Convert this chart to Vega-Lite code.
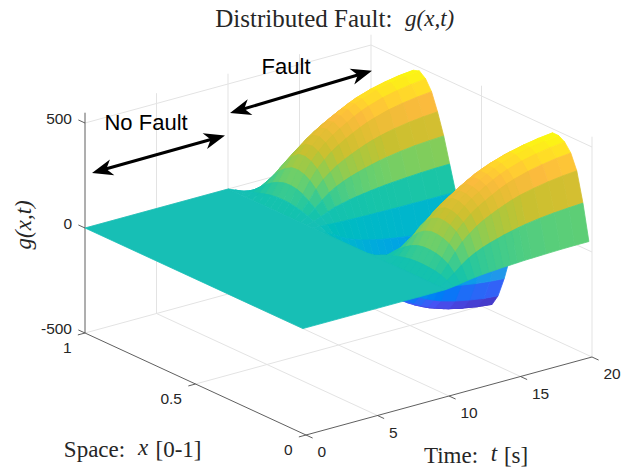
{"$schema":"https://vega.github.io/schema/vega-lite/v6.json","width":623,"height":470,"padding":0,"autosize":{"type":"none"},"background":"white","config":{"view":{"stroke":null}},
"transform":[],
"encoding":{"x":{"field":"u","type":"quantitative","scale":{"domain":[0,623]},"axis":null},"y":{"field":"v","type":"quantitative","scale":{"domain":[470,0]},"axis":null}},
"layer":[
{"data":{"values":[
{"t":5,"x":0,"g":-500,"t2":5,"x2":1,"g2":-500},{"t":10,"x":0,"g":-500,"t2":10,"x2":1,"g2":-500},{"t":15,"x":0,"g":-500,"t2":15,"x2":1,"g2":-500},{"t":20,"x":0,"g":-500,"t2":20,"x2":1,"g2":-500},
{"t":0,"x":0.5,"g":-500,"t2":20,"x2":0.5,"g2":-500},{"t":0,"x":1,"g":-500,"t2":20,"x2":1,"g2":-500},
{"t":5,"x":1,"g":-500,"t2":5,"x2":1,"g2":549},{"t":10,"x":1,"g":-500,"t2":10,"x2":1,"g2":549},{"t":15,"x":1,"g":-500,"t2":15,"x2":1,"g2":549},{"t":20,"x":1,"g":-500,"t2":20,"x2":1,"g2":549},
{"t":0,"x":1,"g":0,"t2":20,"x2":1,"g2":0},{"t":0,"x":1,"g":500,"t2":20,"x2":1,"g2":500},
{"t":20,"x":0.5,"g":-500,"t2":20,"x2":0.5,"g2":549},{"t":20,"x":0,"g":-500,"t2":20,"x2":0,"g2":549},
{"t":20,"x":1,"g":0,"t2":20,"x2":0,"g2":0},{"t":20,"x":1,"g":500,"t2":20,"x2":0,"g2":500}]},
"transform":[{"calculate":"306-221*datum.x+14.3*datum.t","as":"u"},{"calculate":"330-102*datum.x-3.9*datum.t-0.21*datum.g","as":"v"},{"calculate":"306-221*datum.x2+14.3*datum.t2","as":"u2"},{"calculate":"330-102*datum.x2-3.9*datum.t2-0.21*datum.g2","as":"v2"}],
"mark":{"type":"rule","stroke":"#e3e3e3","strokeWidth":1},"encoding":{"x2":{"field":"u2"},"y2":{"field":"v2"}}},
{"data":{"values":[
{"t":0,"x":1,"g":-500,"t2":0,"x2":1,"g2":549},{"t":0,"x":0,"g":-500,"t2":0,"x2":1,"g2":-500},{"t":0,"x":0,"g":-500,"t2":20,"x2":0,"g2":-500},
{"t":0,"x":1,"g":500,"t2":0,"x2":1.03,"g2":500},{"t":0,"x":1,"g":0,"t2":0,"x2":1.03,"g2":0},{"t":0,"x":1,"g":-500,"t2":0,"x2":1.03,"g2":-500},
{"t":0,"x":1,"g":-500,"t2":-0.5,"x2":1,"g2":-500},{"t":0,"x":0.5,"g":-500,"t2":-0.5,"x2":0.5,"g2":-500},{"t":0,"x":0,"g":-500,"t2":-0.5,"x2":0,"g2":-500},
{"t":0,"x":0,"g":-500,"t2":0,"x2":-0.03,"g2":-500},{"t":5,"x":0,"g":-500,"t2":5,"x2":-0.03,"g2":-500},{"t":10,"x":0,"g":-500,"t2":10,"x2":-0.03,"g2":-500},{"t":15,"x":0,"g":-500,"t2":15,"x2":-0.03,"g2":-500},{"t":20,"x":0,"g":-500,"t2":20,"x2":-0.03,"g2":-500}]},
"transform":[{"calculate":"306-221*datum.x+14.3*datum.t","as":"u"},{"calculate":"330-102*datum.x-3.9*datum.t-0.21*datum.g","as":"v"},{"calculate":"306-221*datum.x2+14.3*datum.t2","as":"u2"},{"calculate":"330-102*datum.x2-3.9*datum.t2-0.21*datum.g2","as":"v2"}],
"mark":{"type":"rule","stroke":"#4d4d4d","strokeWidth":0.9},"encoding":{"x2":{"field":"u2"},"y2":{"field":"v2"}}},
{"data":{"values":[
{"t":20,"x":1,"g":-145},{"t":19,"x":1,"g":-143},{"t":18,"x":1,"g":-139},{"t":17,"x":1,"g":-134},{"t":16,"x":1,"g":-127},{"t":15.5,"x":1,"g":-123},{"t":15,"x":1,"g":-118},{"t":14.5,"x":1,"g":-112},{"t":14,"x":1,"g":-105},{"t":13.5,"x":1,"g":-98},{"t":13,"x":1,"g":-90},{"t":12.5,"x":1,"g":-80},{"t":12,"x":1,"g":-68},{"t":11.5,"x":1,"g":-51},{"t":11,"x":1,"g":-32},{"t":10.5,"x":1,"g":-14},{"t":10,"x":1,"g":0},
{"t":20,"x":0.973,"g":-68},{"t":19,"x":0.973,"g":-67},{"t":18,"x":0.973,"g":-65},{"t":17,"x":0.973,"g":-63},{"t":16,"x":0.973,"g":-59},{"t":15.5,"x":0.973,"g":-57},{"t":15,"x":0.973,"g":-55},{"t":14.5,"x":0.973,"g":-52},{"t":14,"x":0.973,"g":-49},{"t":13.5,"x":0.973,"g":-46},{"t":13,"x":0.973,"g":-42},{"t":12.5,"x":0.973,"g":-37},{"t":12,"x":0.973,"g":-32},{"t":11.5,"x":0.973,"g":-24},{"t":11,"x":0.973,"g":-15},{"t":10.5,"x":0.973,"g":-6},{"t":10,"x":0.973,"g":0},
{"t":20,"x":0.945,"g":24},{"t":19,"x":0.945,"g":24},{"t":18,"x":0.945,"g":23},{"t":17,"x":0.945,"g":22},{"t":16,"x":0.945,"g":21},{"t":15.5,"x":0.945,"g":20},{"t":15,"x":0.945,"g":20},{"t":14.5,"x":0.945,"g":19},{"t":14,"x":0.945,"g":18},{"t":13.5,"x":0.945,"g":16},{"t":13,"x":0.945,"g":15},{"t":12.5,"x":0.945,"g":13},{"t":12,"x":0.945,"g":11},{"t":11.5,"x":0.945,"g":9},{"t":11,"x":0.945,"g":5},{"t":10.5,"x":0.945,"g":2},{"t":10,"x":0.945,"g":0},
{"t":20,"x":0.918,"g":145},{"t":19,"x":0.918,"g":143},{"t":18,"x":0.918,"g":139},{"t":17,"x":0.918,"g":134},{"t":16,"x":0.918,"g":127},{"t":15.5,"x":0.918,"g":123},{"t":15,"x":0.918,"g":118},{"t":14.5,"x":0.918,"g":112},{"t":14,"x":0.918,"g":105},{"t":13.5,"x":0.918,"g":98},{"t":13,"x":0.918,"g":90},{"t":12.5,"x":0.918,"g":80},{"t":12,"x":0.918,"g":68},{"t":11.5,"x":0.918,"g":51},{"t":11,"x":0.918,"g":32},{"t":10.5,"x":0.918,"g":14},{"t":10,"x":0.918,"g":0},
{"t":20,"x":0.89,"g":261},{"t":19,"x":0.89,"g":257},{"t":18,"x":0.89,"g":250},{"t":17,"x":0.89,"g":241},{"t":16,"x":0.89,"g":229},{"t":15.5,"x":0.89,"g":221},{"t":15,"x":0.89,"g":212},{"t":14.5,"x":0.89,"g":201},{"t":14,"x":0.89,"g":189},{"t":13.5,"x":0.89,"g":177},{"t":13,"x":0.89,"g":162},{"t":12.5,"x":0.89,"g":143},{"t":12,"x":0.89,"g":122},{"t":11.5,"x":0.89,"g":92},{"t":11,"x":0.89,"g":57},{"t":10.5,"x":0.89,"g":24},{"t":10,"x":0.89,"g":0},
{"t":20,"x":0.863,"g":357},{"t":19,"x":0.863,"g":352},{"t":18,"x":0.863,"g":343},{"t":17,"x":0.863,"g":331},{"t":16,"x":0.863,"g":314},{"t":15.5,"x":0.863,"g":303},{"t":15,"x":0.863,"g":290},{"t":14.5,"x":0.863,"g":275},{"t":14,"x":0.863,"g":259},{"t":13.5,"x":0.863,"g":242},{"t":13,"x":0.863,"g":222},{"t":12.5,"x":0.863,"g":196},{"t":12,"x":0.863,"g":167},{"t":11.5,"x":0.863,"g":126},{"t":11,"x":0.863,"g":78},{"t":10.5,"x":0.863,"g":33},{"t":10,"x":0.863,"g":0},
{"t":20,"x":0.836,"g":427},{"t":19,"x":0.836,"g":420},{"t":18,"x":0.836,"g":410},{"t":17,"x":0.836,"g":396},{"t":16,"x":0.836,"g":375},{"t":15.5,"x":0.836,"g":362},{"t":15,"x":0.836,"g":347},{"t":14.5,"x":0.836,"g":329},{"t":14,"x":0.836,"g":310},{"t":13.5,"x":0.836,"g":289},{"t":13,"x":0.836,"g":266},{"t":12.5,"x":0.836,"g":235},{"t":12,"x":0.836,"g":199},{"t":11.5,"x":0.836,"g":150},{"t":11,"x":0.836,"g":93},{"t":10.5,"x":0.836,"g":40},{"t":10,"x":0.836,"g":0},
{"t":20,"x":0.808,"g":473},{"t":19,"x":0.808,"g":466},{"t":18,"x":0.808,"g":454},{"t":17,"x":0.808,"g":438},{"t":16,"x":0.808,"g":416},{"t":15.5,"x":0.808,"g":401},{"t":15,"x":0.808,"g":384},{"t":14.5,"x":0.808,"g":365},{"t":14,"x":0.808,"g":343},{"t":13.5,"x":0.808,"g":320},{"t":13,"x":0.808,"g":294},{"t":12.5,"x":0.808,"g":260},{"t":12,"x":0.808,"g":221},{"t":11.5,"x":0.808,"g":167},{"t":11,"x":0.808,"g":103},{"t":10.5,"x":0.808,"g":44},{"t":10,"x":0.808,"g":0},
{"t":20,"x":0.781,"g":483},{"t":19,"x":0.781,"g":475},{"t":18,"x":0.781,"g":463},{"t":17,"x":0.781,"g":447},{"t":16,"x":0.781,"g":424},{"t":15.5,"x":0.781,"g":409},{"t":15,"x":0.781,"g":392},{"t":14.5,"x":0.781,"g":372},{"t":14,"x":0.781,"g":350},{"t":13.5,"x":0.781,"g":327},{"t":13,"x":0.781,"g":300},{"t":12.5,"x":0.781,"g":265},{"t":12,"x":0.781,"g":225},{"t":11.5,"x":0.781,"g":170},{"t":11,"x":0.781,"g":105},{"t":10.5,"x":0.781,"g":45},{"t":10,"x":0.781,"g":0},
{"t":20,"x":0.753,"g":459},{"t":19,"x":0.753,"g":451},{"t":18,"x":0.753,"g":440},{"t":17,"x":0.753,"g":425},{"t":16,"x":0.753,"g":403},{"t":15.5,"x":0.753,"g":389},{"t":15,"x":0.753,"g":372},{"t":14.5,"x":0.753,"g":353},{"t":14,"x":0.753,"g":333},{"t":13.5,"x":0.753,"g":311},{"t":13,"x":0.753,"g":285},{"t":12.5,"x":0.753,"g":252},{"t":12,"x":0.753,"g":214},{"t":11.5,"x":0.753,"g":162},{"t":11,"x":0.753,"g":100},{"t":10.5,"x":0.753,"g":43},{"t":10,"x":0.753,"g":0},
{"t":20,"x":0.726,"g":411},{"t":19,"x":0.726,"g":404},{"t":18,"x":0.726,"g":394},{"t":17,"x":0.726,"g":380},{"t":16,"x":0.726,"g":360},{"t":15.5,"x":0.726,"g":348},{"t":15,"x":0.726,"g":333},{"t":14.5,"x":0.726,"g":316},{"t":14,"x":0.726,"g":298},{"t":13.5,"x":0.726,"g":278},{"t":13,"x":0.726,"g":255},{"t":12.5,"x":0.726,"g":225},{"t":12,"x":0.726,"g":191},{"t":11.5,"x":0.726,"g":145},{"t":11,"x":0.726,"g":89},{"t":10.5,"x":0.726,"g":38},{"t":10,"x":0.726,"g":0},
{"t":20,"x":0.699,"g":328},{"t":19,"x":0.699,"g":323},{"t":18,"x":0.699,"g":315},{"t":17,"x":0.699,"g":304},{"t":16,"x":0.699,"g":288},{"t":15.5,"x":0.699,"g":278},{"t":15,"x":0.699,"g":267},{"t":14.5,"x":0.699,"g":253},{"t":14,"x":0.699,"g":238},{"t":13.5,"x":0.699,"g":222},{"t":13,"x":0.699,"g":204},{"t":12.5,"x":0.699,"g":180},{"t":12,"x":0.699,"g":153},{"t":11.5,"x":0.699,"g":116},{"t":11,"x":0.699,"g":71},{"t":10.5,"x":0.699,"g":31},{"t":10,"x":0.699,"g":0},
{"t":20,"x":0.671,"g":227},{"t":19,"x":0.671,"g":223},{"t":18,"x":0.671,"g":218},{"t":17,"x":0.671,"g":210},{"t":16,"x":0.671,"g":199},{"t":15.5,"x":0.671,"g":192},{"t":15,"x":0.671,"g":184},{"t":14.5,"x":0.671,"g":175},{"t":14,"x":0.671,"g":165},{"t":13.5,"x":0.671,"g":154},{"t":13,"x":0.671,"g":141},{"t":12.5,"x":0.671,"g":125},{"t":12,"x":0.671,"g":106},{"t":11.5,"x":0.671,"g":80},{"t":11,"x":0.671,"g":49},{"t":10.5,"x":0.671,"g":21},{"t":10,"x":0.671,"g":0},
{"t":20,"x":0.644,"g":106},{"t":19,"x":0.644,"g":105},{"t":18,"x":0.644,"g":102},{"t":17,"x":0.644,"g":98},{"t":16,"x":0.644,"g":93},{"t":15.5,"x":0.644,"g":90},{"t":15,"x":0.644,"g":86},{"t":14.5,"x":0.644,"g":82},{"t":14,"x":0.644,"g":77},{"t":13.5,"x":0.644,"g":72},{"t":13,"x":0.644,"g":66},{"t":12.5,"x":0.644,"g":58},{"t":12,"x":0.644,"g":50},{"t":11.5,"x":0.644,"g":37},{"t":11,"x":0.644,"g":23},{"t":10.5,"x":0.644,"g":10},{"t":10,"x":0.644,"g":0},
{"t":20,"x":0.617,"g":-14},{"t":19,"x":0.617,"g":-14},{"t":18,"x":0.617,"g":-14},{"t":17,"x":0.617,"g":-13},{"t":16,"x":0.617,"g":-13},{"t":15.5,"x":0.617,"g":-12},{"t":15,"x":0.617,"g":-12},{"t":14.5,"x":0.617,"g":-11},{"t":14,"x":0.617,"g":-11},{"t":13.5,"x":0.617,"g":-10},{"t":13,"x":0.617,"g":-9},{"t":12.5,"x":0.617,"g":-8},{"t":12,"x":0.617,"g":-7},{"t":11.5,"x":0.617,"g":-5},{"t":11,"x":0.617,"g":-3},{"t":10.5,"x":0.617,"g":-1},{"t":10,"x":0.617,"g":0},
{"t":20,"x":0.589,"g":-159},{"t":19,"x":0.589,"g":-157},{"t":18,"x":0.589,"g":-153},{"t":17,"x":0.589,"g":-148},{"t":16,"x":0.589,"g":-140},{"t":15.5,"x":0.589,"g":-135},{"t":15,"x":0.589,"g":-129},{"t":14.5,"x":0.589,"g":-123},{"t":14,"x":0.589,"g":-116},{"t":13.5,"x":0.589,"g":-108},{"t":13,"x":0.589,"g":-99},{"t":12.5,"x":0.589,"g":-87},{"t":12,"x":0.589,"g":-74},{"t":11.5,"x":0.589,"g":-56},{"t":11,"x":0.589,"g":-35},{"t":10.5,"x":0.589,"g":-15},{"t":10,"x":0.589,"g":0},
{"t":20,"x":0.562,"g":-285},{"t":19,"x":0.562,"g":-280},{"t":18,"x":0.562,"g":-273},{"t":17,"x":0.562,"g":-264},{"t":16,"x":0.562,"g":-250},{"t":15.5,"x":0.562,"g":-241},{"t":15,"x":0.562,"g":-231},{"t":14.5,"x":0.562,"g":-219},{"t":14,"x":0.562,"g":-207},{"t":13.5,"x":0.562,"g":-193},{"t":13,"x":0.562,"g":-177},{"t":12.5,"x":0.562,"g":-156},{"t":12,"x":0.562,"g":-133},{"t":11.5,"x":0.562,"g":-100},{"t":11,"x":0.562,"g":-62},{"t":10.5,"x":0.562,"g":-27},{"t":10,"x":0.562,"g":0},
{"t":20,"x":0.534,"g":-386},{"t":19,"x":0.534,"g":-380},{"t":18,"x":0.534,"g":-370},{"t":17,"x":0.534,"g":-358},{"t":16,"x":0.534,"g":-339},{"t":15.5,"x":0.534,"g":-327},{"t":15,"x":0.534,"g":-314},{"t":14.5,"x":0.534,"g":-298},{"t":14,"x":0.534,"g":-280},{"t":13.5,"x":0.534,"g":-262},{"t":13,"x":0.534,"g":-240},{"t":12.5,"x":0.534,"g":-212},{"t":12,"x":0.534,"g":-180},{"t":11.5,"x":0.534,"g":-136},{"t":11,"x":0.534,"g":-84},{"t":10.5,"x":0.534,"g":-36},{"t":10,"x":0.534,"g":0},
{"t":20,"x":0.507,"g":-454},{"t":19,"x":0.507,"g":-447},{"t":18,"x":0.507,"g":-435},{"t":17,"x":0.507,"g":-420},{"t":16,"x":0.507,"g":-399},{"t":15.5,"x":0.507,"g":-384},{"t":15,"x":0.507,"g":-368},{"t":14.5,"x":0.507,"g":-350},{"t":14,"x":0.507,"g":-329},{"t":13.5,"x":0.507,"g":-307},{"t":13,"x":0.507,"g":-282},{"t":12.5,"x":0.507,"g":-249},{"t":12,"x":0.507,"g":-212},{"t":11.5,"x":0.507,"g":-160},{"t":11,"x":0.507,"g":-99},{"t":10.5,"x":0.507,"g":-42},{"t":10,"x":0.507,"g":0},
{"t":20,"x":0.48,"g":-483},{"t":19,"x":0.48,"g":-475},{"t":18,"x":0.48,"g":-463},{"t":17,"x":0.48,"g":-447},{"t":16,"x":0.48,"g":-424},{"t":15.5,"x":0.48,"g":-409},{"t":15,"x":0.48,"g":-392},{"t":14.5,"x":0.48,"g":-372},{"t":14,"x":0.48,"g":-350},{"t":13.5,"x":0.48,"g":-327},{"t":13,"x":0.48,"g":-300},{"t":12.5,"x":0.48,"g":-265},{"t":12,"x":0.48,"g":-225},{"t":11.5,"x":0.48,"g":-170},{"t":11,"x":0.48,"g":-105},{"t":10.5,"x":0.48,"g":-45},{"t":10,"x":0.48,"g":0},
{"t":20,"x":0.452,"g":-469},{"t":19,"x":0.452,"g":-461},{"t":18,"x":0.452,"g":-449},{"t":17,"x":0.452,"g":-434},{"t":16,"x":0.452,"g":-411},{"t":15.5,"x":0.452,"g":-397},{"t":15,"x":0.452,"g":-380},{"t":14.5,"x":0.452,"g":-361},{"t":14,"x":0.452,"g":-340},{"t":13.5,"x":0.452,"g":-317},{"t":13,"x":0.452,"g":-291},{"t":12.5,"x":0.452,"g":-257},{"t":12,"x":0.452,"g":-218},{"t":11.5,"x":0.452,"g":-165},{"t":11,"x":0.452,"g":-102},{"t":10.5,"x":0.452,"g":-44},{"t":10,"x":0.452,"g":0},
{"t":20,"x":0.425,"g":-415},{"t":19,"x":0.425,"g":-409},{"t":18,"x":0.425,"g":-398},{"t":17,"x":0.425,"g":-384},{"t":16,"x":0.425,"g":-365},{"t":15.5,"x":0.425,"g":-352},{"t":15,"x":0.425,"g":-337},{"t":14.5,"x":0.425,"g":-320},{"t":14,"x":0.425,"g":-301},{"t":13.5,"x":0.425,"g":-281},{"t":13,"x":0.425,"g":-258},{"t":12.5,"x":0.425,"g":-228},{"t":12,"x":0.425,"g":-194},{"t":11.5,"x":0.425,"g":-146},{"t":11,"x":0.425,"g":-90},{"t":10.5,"x":0.425,"g":-39},{"t":10,"x":0.425,"g":0},
{"t":20,"x":0.397,"g":-319},{"t":19,"x":0.397,"g":-314},{"t":18,"x":0.397,"g":-306},{"t":17,"x":0.397,"g":-295},{"t":16,"x":0.397,"g":-280},{"t":15.5,"x":0.397,"g":-270},{"t":15,"x":0.397,"g":-259},{"t":14.5,"x":0.397,"g":-246},{"t":14,"x":0.397,"g":-231},{"t":13.5,"x":0.397,"g":-216},{"t":13,"x":0.397,"g":-198},{"t":12.5,"x":0.397,"g":-175},{"t":12,"x":0.397,"g":-149},{"t":11.5,"x":0.397,"g":-112},{"t":11,"x":0.397,"g":-69},{"t":10.5,"x":0.397,"g":-30},{"t":10,"x":0.397,"g":0},
{"t":20,"x":0.37,"g":-203},{"t":19,"x":0.37,"g":-200},{"t":18,"x":0.37,"g":-194},{"t":17,"x":0.37,"g":-188},{"t":16,"x":0.37,"g":-178},{"t":15.5,"x":0.37,"g":-172},{"t":15,"x":0.37,"g":-165},{"t":14.5,"x":0.37,"g":-156},{"t":14,"x":0.37,"g":-147},{"t":13.5,"x":0.37,"g":-137},{"t":13,"x":0.37,"g":-126},{"t":12.5,"x":0.37,"g":-111},{"t":12,"x":0.37,"g":-95},{"t":11.5,"x":0.37,"g":-71},{"t":11,"x":0.37,"g":-44},{"t":10.5,"x":0.37,"g":-19},{"t":10,"x":0.37,"g":0},
{"t":20,"x":0.343,"g":-68},{"t":19,"x":0.343,"g":-67},{"t":18,"x":0.343,"g":-65},{"t":17,"x":0.343,"g":-63},{"t":16,"x":0.343,"g":-59},{"t":15.5,"x":0.343,"g":-57},{"t":15,"x":0.343,"g":-55},{"t":14.5,"x":0.343,"g":-52},{"t":14,"x":0.343,"g":-49},{"t":13.5,"x":0.343,"g":-46},{"t":13,"x":0.343,"g":-42},{"t":12.5,"x":0.343,"g":-37},{"t":12,"x":0.343,"g":-32},{"t":11.5,"x":0.343,"g":-24},{"t":11,"x":0.343,"g":-15},{"t":10.5,"x":0.343,"g":-6},{"t":10,"x":0.343,"g":0},
{"t":20,"x":0.315,"g":72},{"t":19,"x":0.315,"g":71},{"t":18,"x":0.315,"g":69},{"t":17,"x":0.315,"g":67},{"t":16,"x":0.315,"g":64},{"t":15.5,"x":0.315,"g":61},{"t":15,"x":0.315,"g":59},{"t":14.5,"x":0.315,"g":56},{"t":14,"x":0.315,"g":53},{"t":13.5,"x":0.315,"g":49},{"t":13,"x":0.315,"g":45},{"t":12.5,"x":0.315,"g":40},{"t":12,"x":0.315,"g":34},{"t":11.5,"x":0.315,"g":26},{"t":11,"x":0.315,"g":16},{"t":10.5,"x":0.315,"g":7},{"t":10,"x":0.315,"g":0},
{"t":20,"x":0.288,"g":193},{"t":19,"x":0.288,"g":190},{"t":18,"x":0.288,"g":185},{"t":17,"x":0.288,"g":179},{"t":16,"x":0.288,"g":170},{"t":15.5,"x":0.288,"g":164},{"t":15,"x":0.288,"g":157},{"t":14.5,"x":0.288,"g":149},{"t":14,"x":0.288,"g":140},{"t":13.5,"x":0.288,"g":131},{"t":13,"x":0.288,"g":120},{"t":12.5,"x":0.288,"g":106},{"t":12,"x":0.288,"g":90},{"t":11.5,"x":0.288,"g":68},{"t":11,"x":0.288,"g":42},{"t":10.5,"x":0.288,"g":18},{"t":10,"x":0.288,"g":0},
{"t":20,"x":0.261,"g":304},{"t":19,"x":0.261,"g":299},{"t":18,"x":0.261,"g":292},{"t":17,"x":0.261,"g":282},{"t":16,"x":0.261,"g":267},{"t":15.5,"x":0.261,"g":258},{"t":15,"x":0.261,"g":247},{"t":14.5,"x":0.261,"g":234},{"t":14,"x":0.261,"g":221},{"t":13.5,"x":0.261,"g":206},{"t":13,"x":0.261,"g":189},{"t":12.5,"x":0.261,"g":167},{"t":12,"x":0.261,"g":142},{"t":11.5,"x":0.261,"g":107},{"t":11,"x":0.261,"g":66},{"t":10.5,"x":0.261,"g":28},{"t":10,"x":0.261,"g":0},
{"t":20,"x":0.233,"g":391},{"t":19,"x":0.233,"g":385},{"t":18,"x":0.233,"g":375},{"t":17,"x":0.233,"g":362},{"t":16,"x":0.233,"g":343},{"t":15.5,"x":0.233,"g":331},{"t":15,"x":0.233,"g":318},{"t":14.5,"x":0.233,"g":301},{"t":14,"x":0.233,"g":284},{"t":13.5,"x":0.233,"g":265},{"t":13,"x":0.233,"g":243},{"t":12.5,"x":0.233,"g":215},{"t":12,"x":0.233,"g":182},{"t":11.5,"x":0.233,"g":138},{"t":11,"x":0.233,"g":85},{"t":10.5,"x":0.233,"g":36},{"t":10,"x":0.233,"g":0},
{"t":20,"x":0.206,"g":449},{"t":19,"x":0.206,"g":442},{"t":18,"x":0.206,"g":431},{"t":17,"x":0.206,"g":416},{"t":16,"x":0.206,"g":394},{"t":15.5,"x":0.206,"g":380},{"t":15,"x":0.206,"g":365},{"t":14.5,"x":0.206,"g":346},{"t":14,"x":0.206,"g":326},{"t":13.5,"x":0.206,"g":304},{"t":13,"x":0.206,"g":279},{"t":12.5,"x":0.206,"g":246},{"t":12,"x":0.206,"g":209},{"t":11.5,"x":0.206,"g":158},{"t":11,"x":0.206,"g":98},{"t":10.5,"x":0.206,"g":42},{"t":10,"x":0.206,"g":0},
{"t":20,"x":0.178,"g":481},{"t":19,"x":0.178,"g":473},{"t":18,"x":0.178,"g":461},{"t":17,"x":0.178,"g":445},{"t":16,"x":0.178,"g":422},{"t":15.5,"x":0.178,"g":407},{"t":15,"x":0.178,"g":390},{"t":14.5,"x":0.178,"g":370},{"t":14,"x":0.178,"g":348},{"t":13.5,"x":0.178,"g":325},{"t":13,"x":0.178,"g":299},{"t":12.5,"x":0.178,"g":264},{"t":12,"x":0.178,"g":224},{"t":11.5,"x":0.178,"g":169},{"t":11,"x":0.178,"g":104},{"t":10.5,"x":0.178,"g":45},{"t":10,"x":0.178,"g":0},
{"t":20,"x":0.151,"g":481},{"t":19,"x":0.151,"g":473},{"t":18,"x":0.151,"g":461},{"t":17,"x":0.151,"g":445},{"t":16,"x":0.151,"g":422},{"t":15.5,"x":0.151,"g":407},{"t":15,"x":0.151,"g":390},{"t":14.5,"x":0.151,"g":370},{"t":14,"x":0.151,"g":348},{"t":13.5,"x":0.151,"g":325},{"t":13,"x":0.151,"g":299},{"t":12.5,"x":0.151,"g":264},{"t":12,"x":0.151,"g":224},{"t":11.5,"x":0.151,"g":169},{"t":11,"x":0.151,"g":104},{"t":10.5,"x":0.151,"g":45},{"t":10,"x":0.151,"g":0},
{"t":20,"x":0.124,"g":464},{"t":19,"x":0.124,"g":456},{"t":18,"x":0.124,"g":444},{"t":17,"x":0.124,"g":429},{"t":16,"x":0.124,"g":407},{"t":15.5,"x":0.124,"g":393},{"t":15,"x":0.124,"g":376},{"t":14.5,"x":0.124,"g":357},{"t":14,"x":0.124,"g":336},{"t":13.5,"x":0.124,"g":314},{"t":13,"x":0.124,"g":288},{"t":12.5,"x":0.124,"g":254},{"t":12,"x":0.124,"g":216},{"t":11.5,"x":0.124,"g":163},{"t":11,"x":0.124,"g":101},{"t":10.5,"x":0.124,"g":43},{"t":10,"x":0.124,"g":0},
{"t":20,"x":0.096,"g":425},{"t":19,"x":0.096,"g":418},{"t":18,"x":0.096,"g":407},{"t":17,"x":0.096,"g":393},{"t":16,"x":0.096,"g":373},{"t":15.5,"x":0.096,"g":360},{"t":15,"x":0.096,"g":345},{"t":14.5,"x":0.096,"g":327},{"t":14,"x":0.096,"g":308},{"t":13.5,"x":0.096,"g":288},{"t":13,"x":0.096,"g":264},{"t":12.5,"x":0.096,"g":233},{"t":12,"x":0.096,"g":198},{"t":11.5,"x":0.096,"g":150},{"t":11,"x":0.096,"g":92},{"t":10.5,"x":0.096,"g":40},{"t":10,"x":0.096,"g":0},
{"t":20,"x":0.069,"g":353},{"t":19,"x":0.069,"g":347},{"t":18,"x":0.069,"g":338},{"t":17,"x":0.069,"g":326},{"t":16,"x":0.069,"g":310},{"t":15.5,"x":0.069,"g":299},{"t":15,"x":0.069,"g":286},{"t":14.5,"x":0.069,"g":272},{"t":14,"x":0.069,"g":256},{"t":13.5,"x":0.069,"g":239},{"t":13,"x":0.069,"g":219},{"t":12.5,"x":0.069,"g":193},{"t":12,"x":0.069,"g":164},{"t":11.5,"x":0.069,"g":124},{"t":11,"x":0.069,"g":77},{"t":10.5,"x":0.069,"g":33},{"t":10,"x":0.069,"g":0},
{"t":20,"x":0.041,"g":213},{"t":19,"x":0.041,"g":209},{"t":18,"x":0.041,"g":204},{"t":17,"x":0.041,"g":197},{"t":16,"x":0.041,"g":187},{"t":15.5,"x":0.041,"g":180},{"t":15,"x":0.041,"g":172},{"t":14.5,"x":0.041,"g":164},{"t":14,"x":0.041,"g":154},{"t":13.5,"x":0.041,"g":144},{"t":13,"x":0.041,"g":132},{"t":12.5,"x":0.041,"g":117},{"t":12,"x":0.041,"g":99},{"t":11.5,"x":0.041,"g":75},{"t":11,"x":0.041,"g":46},{"t":10.5,"x":0.041,"g":20},{"t":10,"x":0.041,"g":0},
{"t":20,"x":0.014,"g":43},{"t":19,"x":0.014,"g":43},{"t":18,"x":0.014,"g":42},{"t":17,"x":0.014,"g":40},{"t":16,"x":0.014,"g":38},{"t":15.5,"x":0.014,"g":37},{"t":15,"x":0.014,"g":35},{"t":14.5,"x":0.014,"g":33},{"t":14,"x":0.014,"g":32},{"t":13.5,"x":0.014,"g":29},{"t":13,"x":0.014,"g":27},{"t":12.5,"x":0.014,"g":24},{"t":12,"x":0.014,"g":20},{"t":11.5,"x":0.014,"g":15},{"t":11,"x":0.014,"g":9},{"t":10.5,"x":0.014,"g":4},{"t":10,"x":0.014,"g":0}
]},
"transform":[{"calculate":"[0,1,2,3,4]","as":"k"},{"flatten":["k"]},
{"calculate":"indexof([10,10.5,11,11.5,12,12.5,13,13.5,14,14.5,15,15.5,16,17,18,19,20],datum.t)-(datum.k==1||datum.k==2?1:0)","as":"ci"},
{"calculate":"round((datum.x-0.014)/0.02739)-(datum.k==2||datum.k==3?1:0)","as":"cj"},
{"filter":"datum.ci>=0&&datum.ci<16&&datum.cj>=0&&datum.cj<36"},
{"calculate":"datum.ci*100+datum.cj","as":"cell"},
{"joinaggregate":[{"op":"mean","field":"g","as":"gm"}],"groupby":["cell"]},
{"calculate":"306-221*datum.x+14.3*datum.t","as":"u"},{"calculate":"330-102*datum.x-3.9*datum.t-0.21*datum.g","as":"v"}],
"mark":{"type":"line","strokeWidth":0.8,"strokeJoin":"round"},
"encoding":{"detail":{"field":"cell","type":"nominal"},"order":{"field":"k","type":"quantitative"},
"fill":{"field":"gm","type":"quantitative","legend":null,"scale":{"domain":[-483,-377,-253,-125,0,125,241,358,483],"range":["#3E26A8","#4852F4","#2796EB","#05B2D2","#17BFB5","#6BCF6C","#C9C030","#FBBB3D","#F9FB0E"]}},
"stroke":{"field":"gm","type":"quantitative","legend":null,"scale":{"domain":[-483,-377,-253,-125,0,125,241,358,483],"range":["#3E26A8","#4852F4","#2796EB","#05B2D2","#17BFB5","#6BCF6C","#C9C030","#FBBB3D","#F9FB0E"]}}}},
{"data":{"values":[{"t":0,"x":0.014,"g":0,"k":0},{"t":10,"x":0.014,"g":0,"k":1},{"t":10,"x":1,"g":0,"k":2},{"t":0,"x":1,"g":0,"k":3},{"t":0,"x":0.014,"g":0,"k":4}]},
"transform":[{"calculate":"306-221*datum.x+14.3*datum.t","as":"u"},{"calculate":"330-102*datum.x-3.9*datum.t-0.21*datum.g","as":"v"}],
"mark":{"type":"line","fill":"#17BFB5","stroke":"#17BFB5","strokeWidth":0.8},"encoding":{"order":{"field":"k","type":"quantitative"}}},
{"data":{"values":[{"t":1,"x":1,"g":254,"t2":9.3,"x2":1,"g2":258},{"t":10.6,"x":1,"g":360,"t2":19.6,"x2":1,"g2":375}]},
"transform":[{"calculate":"306-221*datum.x+14.3*datum.t","as":"u"},{"calculate":"330-102*datum.x-3.9*datum.t-0.21*datum.g","as":"v"},{"calculate":"306-221*datum.x2+14.3*datum.t2","as":"u2"},{"calculate":"330-102*datum.x2-3.9*datum.t2-0.21*datum.g2","as":"v2"}],
"mark":{"type":"rule","stroke":"black","strokeWidth":3},"encoding":{"x2":{"field":"u2"},"y2":{"field":"v2"}}},
{"data":{"values":[{"t":9.79,"x":1,"g":258.6,"a":74.5},{"t":0.49,"x":1,"g":253,"a":254.5},{"t":20.07,"x":1,"g":376,"a":73.6},{"t":10.14,"x":1,"g":359.4,"a":253.6}]},
"transform":[{"calculate":"306-221*datum.x+14.3*datum.t","as":"u"},{"calculate":"330-102*datum.x-3.9*datum.t-0.21*datum.g","as":"v"}],
"mark":{"type":"point","shape":"M0,0L0.75,1.9L0,1.35L-0.75,1.9Z","filled":true,"color":"black","size":484,"opacity":1},"encoding":{"angle":{"field":"a","type":"quantitative","scale":null}}},
{"data":{"values":[{"t":0,"x":0,"g":-500,"label":"0"},{"t":5,"x":0,"g":-500,"label":"5"},{"t":10,"x":0,"g":-500,"label":"10"},{"t":15,"x":0,"g":-500,"label":"15"},{"t":20,"x":0,"g":-500,"label":"20"}]},
"transform":[{"calculate":"306-221*datum.x+14.3*datum.t","as":"u"},{"calculate":"330-102*datum.x-3.9*datum.t-0.21*datum.g","as":"v"}],
"mark":{"type":"text","font":"Liberation Sans","fontSize":15.5,"fill":"#262626","align":"left","baseline":"middle","dx":11.5,"dy":17},"encoding":{"text":{"field":"label"}}},
{"data":{"values":[{"t":0,"x":0,"g":-500,"label":"0"},{"t":0,"x":0.5,"g":-500,"label":"0.5"},{"t":0,"x":1,"g":-500,"label":"1"}]},
"transform":[{"calculate":"306-221*datum.x+14.3*datum.t","as":"u"},{"calculate":"330-102*datum.x-3.9*datum.t-0.21*datum.g","as":"v"}],
"mark":{"type":"text","font":"Liberation Sans","fontSize":15.5,"fill":"#262626","align":"right","baseline":"middle","dx":-13.5,"dy":15},"encoding":{"text":{"field":"label"}}},
{"data":{"values":[{"t":0,"x":1,"g":500,"label":"500"},{"t":0,"x":1,"g":0,"label":"0"},{"t":0,"x":1,"g":-500,"label":"-500"}]},
"transform":[{"calculate":"306-221*datum.x+14.3*datum.t","as":"u"},{"calculate":"330-102*datum.x-3.9*datum.t-0.21*datum.g","as":"v"}],
"mark":{"type":"text","font":"Liberation Sans","fontSize":15.5,"fill":"#262626","align":"right","baseline":"middle","dx":-13,"dy":-4},"encoding":{"text":{"field":"label"}}},
{"data":{"values":[{"t":4.27,"x":1,"g":421,"label":"No Fault"},{"t":14.06,"x":1,"g":505.7,"label":"Fault"}]},
"transform":[{"calculate":"306-221*datum.x+14.3*datum.t","as":"u"},{"calculate":"330-102*datum.x-3.9*datum.t-0.21*datum.g","as":"v"}],
"mark":{"type":"text","font":"Liberation Sans","fontSize":22,"fill":"black","align":"center","baseline":"middle"},"encoding":{"text":{"field":"label"}}},
{"data":{"values":[{"t":15.3,"x":1,"g":711,"label":"Distributed Fault:"}]},
"transform":[{"calculate":"306-221*datum.x+14.3*datum.t","as":"u"},{"calculate":"330-102*datum.x-3.9*datum.t-0.21*datum.g","as":"v"}],
"mark":{"type":"text","font":"Liberation Serif","fontSize":25,"fill":"#262626","align":"center","baseline":"middle"},"encoding":{"text":{"field":"label"}}},
{"data":{"values":[{"t":0,"x":0.957,"g":-1036,"label":"Space:"},{"t":0,"x":0.577,"g":-852,"label":"[0-1]"},{"t":10.14,"x":0,"g":-788,"label":"Time:"},{"t":14.69,"x":0,"g":-873,"label":"[s]"}]},
"transform":[{"calculate":"306-221*datum.x+14.3*datum.t","as":"u"},{"calculate":"330-102*datum.x-3.9*datum.t-0.21*datum.g","as":"v"}],
"mark":{"type":"text","font":"Liberation Serif","fontSize":23,"fill":"#262626","align":"center","baseline":"middle"},"encoding":{"text":{"field":"label"}}},
{"data":{"values":[{"t":24.1,"x":1,"g":548,"label":"g(x,t)"},{"t":0,"x":0.7376,"g":-920,"label":"x"},{"t":13.15,"x":0,"g":-835,"label":"t"}]},
"transform":[{"calculate":"306-221*datum.x+14.3*datum.t","as":"u"},{"calculate":"330-102*datum.x-3.9*datum.t-0.21*datum.g","as":"v"}],
"mark":{"type":"text","font":"Liberation Serif","fontStyle":"italic","fontSize":23,"fill":"#262626","align":"center","baseline":"middle"},"encoding":{"text":{"field":"label"}}},
{"data":{"values":[{"t":0,"x":1.276,"g":-119,"label":"g(x,t)"}]},
"transform":[{"calculate":"306-221*datum.x+14.3*datum.t","as":"u"},{"calculate":"330-102*datum.x-3.9*datum.t-0.21*datum.g","as":"v"}],
"mark":{"type":"text","font":"Liberation Serif","fontStyle":"italic","fontSize":23,"angle":270,"fill":"#262626","align":"center","baseline":"middle"},"encoding":{"text":{"field":"label"}}}
]}
